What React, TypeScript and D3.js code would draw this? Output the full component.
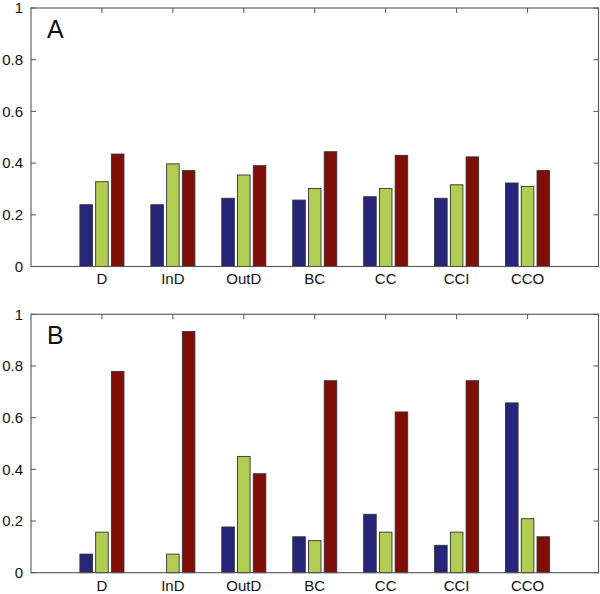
import React from "react";
import * as d3 from "d3";

const categories = ["D", "InD", "OutD", "BC", "CC", "CCI", "CCO"];
const seriesColors = ["#27257a", "#b1cd52", "#7f0f06"];
const panelA_blue = [0.239, 0.239, 0.264, 0.257, 0.27, 0.264, 0.323];
const panelA_green = [0.328, 0.397, 0.354, 0.302, 0.302, 0.316, 0.31];
const panelA_red = [0.435, 0.371, 0.39, 0.444, 0.43, 0.424, 0.371];
const panelB_blue = [0.072, 0, 0.177, 0.139, 0.226, 0.106, 0.657];
const panelB_green = [0.157, 0.072, 0.45, 0.124, 0.157, 0.157, 0.209];
const panelB_red = [0.779, 0.933, 0.383, 0.743, 0.622, 0.743, 0.139];
const yTicks = [0, 0.2, 0.4, 0.6, 0.8, 1];
const yTickLabels = ["0", "0.2", "0.4", "0.6", "0.8", "1"];

const FONT = "'Liberation Sans', Arial, Helvetica, sans-serif";

type PanelProps = { top: number; bottom: number; letter: string; series: number[][] };

function Panel({ top, bottom, letter, series }: PanelProps) {
  const left = 31;
  const right = 598.5;
  const x = d3.scaleLinear().domain([0, categories.length + 1]).range([left, right]);
  const y = d3.scaleLinear().domain([0, 1]).range([bottom, top]);
  const unit = x(1) - x(0);
  const offset = 0.222;
  const bw = 0.177 * unit;
  const axisColor = "#555";
  const tick = 5;
  return (
    <g>
      {categories.map((c, i) => (
        <g key={"xt" + c}>
          <line x1={x(i + 1)} x2={x(i + 1)} y1={top} y2={top + tick} stroke={axisColor} strokeWidth={1} />
          <line x1={x(i + 1)} x2={x(i + 1)} y1={bottom} y2={bottom - tick} stroke={axisColor} strokeWidth={1} />
          <text x={x(i + 1)} y={bottom + 17.8} textAnchor="middle" fontFamily={FONT} fontSize={15} fill="#111">
            {c}
          </text>
        </g>
      ))}
      {yTicks.map((t, i) => (
        <g key={"yt" + t}>
          <line x1={left} x2={left + tick} y1={y(t)} y2={y(t)} stroke={axisColor} strokeWidth={1} />
          <line x1={right} x2={right - tick} y1={y(t)} y2={y(t)} stroke={axisColor} strokeWidth={1} />
          <text x={23} y={y(t) + 5.2} textAnchor="end" fontFamily={FONT} fontSize={15} fill="#111">
            {yTickLabels[i]}
          </text>
        </g>
      ))}
      {series.map((vals, s) =>
        vals.map((v, i) =>
          v > 0 ? (
            <rect
              key={`b${s}-${i}`}
              x={x(i + 1 + (s - 1) * offset) - bw / 2}
              y={y(v)}
              width={bw}
              height={y(0) - y(v)}
              fill={seriesColors[s]}
              stroke="#333"
              strokeWidth={0.9}
            />
          ) : null
        )
      )}
      <rect x={left} y={top} width={right - left} height={bottom - top} fill="none" stroke={axisColor} strokeWidth={1.1} />
      <text x={47} y={top + 30} fontFamily={FONT} fontSize={25} fill="#111">
        {letter}
      </text>
    </g>
  );
}

export default function App() {
  return (
    <svg width={600} height={594} style={{ position: "absolute", left: 0, top: 0, background: "#fff" }}>
      <rect width={600} height={594} fill="#fff" />
      <Panel top={8} bottom={266.5} letter="A" series={[panelA_blue, panelA_green, panelA_red]} />
      <Panel top={314.3} bottom={572.7} letter="B" series={[panelB_blue, panelB_green, panelB_red]} />
    </svg>
  );
}
